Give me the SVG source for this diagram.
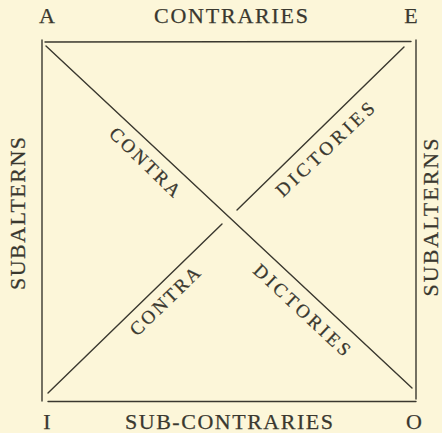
<svg xmlns="http://www.w3.org/2000/svg" width="442" height="433" viewBox="0 0 442 433">
  <style>
    .ln { stroke: #3a382f; stroke-width: 1.4; fill: none; stroke-linecap: round; }
    .big { font-family: "Liberation Serif", "Times New Roman", serif; font-size: 22px; fill: #3a382f; stroke: #3a382f; stroke-width: 0.25; }
    .diag { font-family: "Liberation Serif", "Times New Roman", serif; font-size: 19px; fill: #3a382f; stroke: #3a382f; stroke-width: 0.25; }
  </style>
  <rect x="0" y="0" width="442" height="433" fill="#fcf6d9"/>
  <g id="connectors">
    <line class="ln" x1="45" y1="42" x2="411" y2="41.5"/>
    <line class="ln" x1="42" y1="40" x2="42" y2="401"/>
    <line class="ln" x1="416" y1="40" x2="416" y2="399"/>
    <line class="ln" x1="48" y1="401.5" x2="416" y2="401.5"/>
    <line class="ln" x1="46" y1="46" x2="412" y2="388"/>
    <line class="ln" x1="404" y1="47" x2="237" y2="210"/>
    <line class="ln" x1="222" y1="224" x2="48" y2="393"/>
  </g>
  <g id="A"><text class="big" x="47" y="23" text-anchor="middle">A</text></g>
  <g id="E"><text class="big" x="411" y="23" text-anchor="middle">E</text></g>
  <g id="I"><text class="big" x="47" y="429" text-anchor="middle">I</text></g>
  <g id="O"><text class="big" x="414" y="429" text-anchor="middle">O</text></g>
  <g id="contraries"><text class="big" x="231" y="23" text-anchor="middle" textLength="154" lengthAdjust="spacing">CONTRARIES</text></g>
  <g id="subcontraries"><text class="big" x="229" y="429" text-anchor="middle" textLength="208" lengthAdjust="spacing">SUB-CONTRARIES</text></g>
  <g id="subalterns-left"><text class="big" transform="translate(25,213.5) rotate(-90)" x="0" y="0" text-anchor="middle" textLength="153" lengthAdjust="spacing">SUBALTERNS</text></g>
  <g id="subalterns-right"><text class="big" transform="translate(437.5,217.5) rotate(-90)" x="0" y="0" text-anchor="middle" textLength="158" lengthAdjust="spacing">SUBALTERNS</text></g>
  <g id="contra-top"><text class="diag" transform="translate(108,135) rotate(44)" x="0" y="0" textLength="91" lengthAdjust="spacing">CONTRA</text></g>
  <g id="dictories-top"><text class="diag" transform="translate(283,198) rotate(-43.5)" x="0" y="0" textLength="128" lengthAdjust="spacing">DICTORIES</text></g>
  <g id="contra-bottom"><text class="diag" transform="translate(137,337) rotate(-44)" x="0" y="0" textLength="90" lengthAdjust="spacing">CONTRA</text></g>
  <g id="dictories-bottom"><text class="diag" transform="translate(252,272) rotate(43)" x="0" y="0" textLength="125" lengthAdjust="spacing">DICTORIES</text></g>
</svg>
